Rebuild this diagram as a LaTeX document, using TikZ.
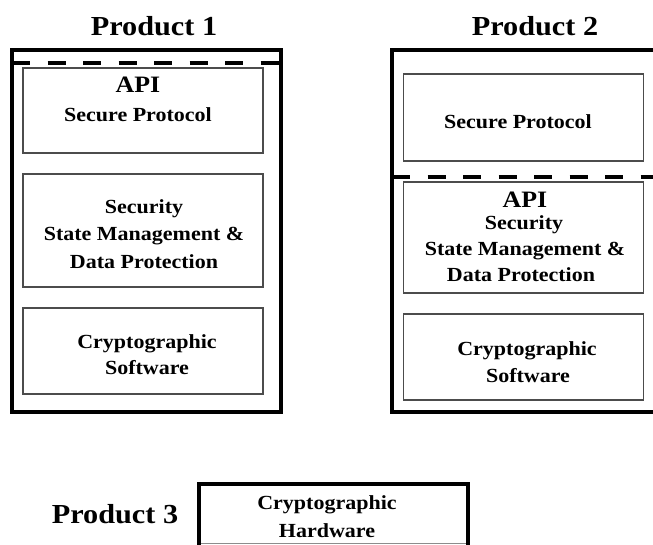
\documentclass[tikz,border=0pt]{standalone}
\usepackage{fontspec}
\setmainfont[FakeStretch=1.1, BoldFont={Liberation Serif Bold}, BoldFeatures={FakeStretch=1.1}]{Liberation Serif}
\begin{document}
\begin{tikzpicture}[x=1pt,y=-1pt,
  outerbox/.style={draw=black, line width=4pt, inner sep=0pt, minimum width=#1},
  innerbox/.style={draw=black!70, line width=1.1pt, inner sep=0pt, minimum width=240pt},
  apiline/.style={draw=black, line width=4pt, dash pattern=on 18pt off 17.5pt},
  title/.style={anchor=base, inner sep=0pt, font=\bfseries\fontsize{27.5}{32}\selectfont},
  apitext/.style={anchor=base, inner sep=0pt, font=\bfseries\fontsize{23.5}{28}\selectfont},
  body/.style={anchor=base, inner sep=0pt, font=\bfseries\fontsize{20}{24}\selectfont}]
\useasboundingbox (0,0) rectangle (653,544);
\clip (0,0) rectangle (653,544);

% Product 1
\node[title] (t1) at (154,35) {Product 1};
\node[outerbox=269pt, minimum height=362pt] (p1) at (146.5,231) {};
\node[innerbox, minimum height=85pt]  (api1) at (143,110.5) {};
\node[innerbox, minimum height=113pt] (sec1) at (143,230.5) {};
\node[innerbox, minimum height=86pt]  (cry1) at (143,351) {};
\draw[apiline] (12,63) -- (281,63);
\node[apitext] (api1a) at (138,92)  {API};
\node[body]    (api1b) at (138,121) {Secure Protocol};
\node[body]    (sec1a) at (144,213) {Security};
\node[body]    (sec1b) at (144,240) {State Management \&};
\node[body]    (sec1c) at (144,268) {Data Protection};
\node[body]    (cry1a) at (147,348) {Cryptographic};
\node[body]    (cry1b) at (147,374) {Software};

% Product 2
\node[title] (t2) at (535,35) {Product 2};
\node[outerbox=270pt, minimum height=362pt] (p2) at (527,231) {};
\node[innerbox, minimum height=87pt]  (sp2)  at (523.5,117.5) {};
\node[innerbox, minimum height=111pt] (api2) at (523.5,237.5) {};
\node[innerbox, minimum height=86pt]  (cry2) at (523.5,357) {};
\draw[apiline] (392,177) -- (662,177);
\node[body]    (sp2a)  at (518,128) {Secure Protocol};
\node[apitext] (api2a) at (525,207) {API};
\node[body]    (api2b) at (524,229) {Security};
\node[body]    (api2c) at (525,255) {State Management \&};
\node[body]    (api2d) at (521,281) {Data Protection};
\node[body]    (cry2a) at (527,355) {Cryptographic};
\node[body]    (cry2b) at (528,382) {Software};

% Product 3
\node[title] (t3) at (115,523) {Product 3};
\node[outerbox=269pt, minimum height=116pt] (p3) at (333.5,542) {};
\draw[draw=black!45, line width=1pt] (201,543) -- (466,543);
\node[body] (hw3a) at (327,509) {Cryptographic};
\node[body] (hw3b) at (327,537) {Hardware};
\end{tikzpicture}
\end{document}
